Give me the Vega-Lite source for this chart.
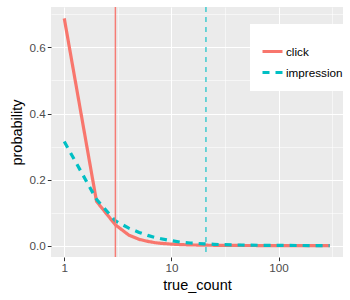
{
  "$schema": "https://vega.github.io/schema/vega-lite/v6.json",
  "autosize": "none",
  "width": 292,
  "height": 250,
  "padding": {"left": 51, "top": 7, "right": 7, "bottom": 43},
  "background": "white",
  "config": {
    "font": "Liberation Sans",
    "view": {"fill": "#EBEBEB", "stroke": null},
    "axis": {
      "domain": false,
      "gridColor": "white",
      "labelColor": "#4D4D4D",
      "labelFontSize": 11.7,
      "labelFont": "Liberation Sans",
      "tickColor": "#333333",
      "tickSize": 3.7,
      "tickWidth": 1,
      "titleFont": "Liberation Sans",
      "titleFontSize": 14.5,
      "titleFontWeight": "normal",
      "titleColor": "black"
    },
    "legend": {
      "orient": "none",
      "legendX": 199,
      "legendY": 17,
      "fillColor": "white",
      "padding": 11,
      "symbolType": "stroke",
      "symbolSize": 400,
      "symbolStrokeWidth": 3,
      "labelFontSize": 11.7,
      "labelColor": "black",
      "labelFont": "Liberation Sans",
      "rowPadding": 2,
      "labelOffset": 2,
      "titleFontSize": 5,
      "titlePadding": 0
    }
  },
  "datasets": {
    "curves": [
      {"true_count": 1, "probability": 0.688, "type": "click"},
      {"true_count": 2, "probability": 0.134, "type": "click"},
      {"true_count": 3, "probability": 0.063, "type": "click"},
      {"true_count": 4, "probability": 0.032, "type": "click"},
      {"true_count": 5, "probability": 0.019, "type": "click"},
      {"true_count": 6, "probability": 0.013, "type": "click"},
      {"true_count": 7, "probability": 0.009, "type": "click"},
      {"true_count": 8, "probability": 0.007, "type": "click"},
      {"true_count": 10, "probability": 0.0045, "type": "click"},
      {"true_count": 12, "probability": 0.0032, "type": "click"},
      {"true_count": 15, "probability": 0.0022, "type": "click"},
      {"true_count": 20, "probability": 0.0014, "type": "click"},
      {"true_count": 30, "probability": 0.0008, "type": "click"},
      {"true_count": 50, "probability": 0.0004, "type": "click"},
      {"true_count": 100, "probability": 0.0002, "type": "click"},
      {"true_count": 200, "probability": 0.0001, "type": "click"},
      {"true_count": 300, "probability": 0.0001, "type": "click"},
      {"true_count": 1, "probability": 0.315, "type": "impression"},
      {"true_count": 2, "probability": 0.14, "type": "impression"},
      {"true_count": 3, "probability": 0.075, "type": "impression"},
      {"true_count": 4, "probability": 0.053, "type": "impression"},
      {"true_count": 5, "probability": 0.04, "type": "impression"},
      {"true_count": 6, "probability": 0.031, "type": "impression"},
      {"true_count": 7, "probability": 0.025, "type": "impression"},
      {"true_count": 8, "probability": 0.021, "type": "impression"},
      {"true_count": 10, "probability": 0.015, "type": "impression"},
      {"true_count": 12, "probability": 0.011, "type": "impression"},
      {"true_count": 15, "probability": 0.008, "type": "impression"},
      {"true_count": 20, "probability": 0.0055, "type": "impression"},
      {"true_count": 25, "probability": 0.004, "type": "impression"},
      {"true_count": 30, "probability": 0.003, "type": "impression"},
      {"true_count": 40, "probability": 0.002, "type": "impression"},
      {"true_count": 50, "probability": 0.0015, "type": "impression"},
      {"true_count": 70, "probability": 0.001, "type": "impression"},
      {"true_count": 100, "probability": 0.0007, "type": "impression"},
      {"true_count": 150, "probability": 0.0004, "type": "impression"},
      {"true_count": 200, "probability": 0.0003, "type": "impression"},
      {"true_count": 300, "probability": 0.0002, "type": "impression"}
    ],
    "vlines": [
      {"true_count": 3, "type": "click"},
      {"true_count": 21, "type": "impression"}
    ]
  },
  "layer": [
    {
      "data": {"name": "curves"},
      "mark": {"type": "line", "strokeWidth": 3.2, "clip": true},
      "encoding": {
        "x": {
          "field": "true_count",
          "type": "quantitative",
          "scale": {"type": "log", "domain": [0.752, 399], "nice": false, "zero": false},
          "axis": {
            "title": "true_count",
            "values": [1, 3.1623, 10, 31.623, 100, 316.23],
            "labelExpr": "datum.value == 1 ? '1' : datum.value == 10 ? '10' : datum.value == 100 ? '100' : ''",
            "gridWidth": {"condition": {"test": "datum.value == 1 || datum.value == 10 || datum.value == 100", "value": 1.1}, "value": 0.55},
            "tickOpacity": {"condition": {"test": "datum.value == 1 || datum.value == 10 || datum.value == 100", "value": 1}, "value": 0},
            "labelPadding": 2,
            "titlePadding": 4
          }
        },
        "y": {
          "field": "probability",
          "type": "quantitative",
          "scale": {"domain": [-0.0344, 0.7224], "nice": false, "zero": false},
          "axis": {
            "title": "probability",
            "values": [0, 0.1, 0.2, 0.3, 0.4, 0.5, 0.6, 0.7],
            "labelExpr": "round(datum.value * 10) % 2 == 0 ? format(datum.value, '.1f') : ''",
            "gridWidth": {"condition": {"test": "round(datum.value * 10) % 2 == 0", "value": 1.1}, "value": 0.55},
            "tickOpacity": {"condition": {"test": "round(datum.value * 10) % 2 == 0", "value": 1}, "value": 0},
            "labelPadding": 2,
            "titlePadding": 5
          }
        },
        "color": {
          "field": "type",
          "type": "nominal",
          "scale": {"domain": ["click", "impression"], "range": ["#F8766D", "#00BFC4"]},
          "legend": {"title": " "}
        },
        "strokeDash": {
          "field": "type",
          "type": "nominal",
          "scale": {"domain": ["click", "impression"], "range": [[1, 0], [7, 6]]},
          "legend": {"title": " "}
        }
      }
    },
    {
      "data": {"name": "vlines"},
      "transform": [{"filter": "datum.type == 'click'"}],
      "mark": {"type": "rule", "color": "#F67C75", "strokeWidth": 1.5},
      "encoding": {"x": {"field": "true_count", "type": "quantitative"}}
    },
    {
      "data": {"name": "vlines"},
      "transform": [{"filter": "datum.type == 'impression'"}],
      "mark": {"type": "rule", "color": "#00BFC4", "strokeWidth": 1.1, "strokeDash": [5, 5]},
      "encoding": {"x": {"field": "true_count", "type": "quantitative"}}
    }
  ]
}
